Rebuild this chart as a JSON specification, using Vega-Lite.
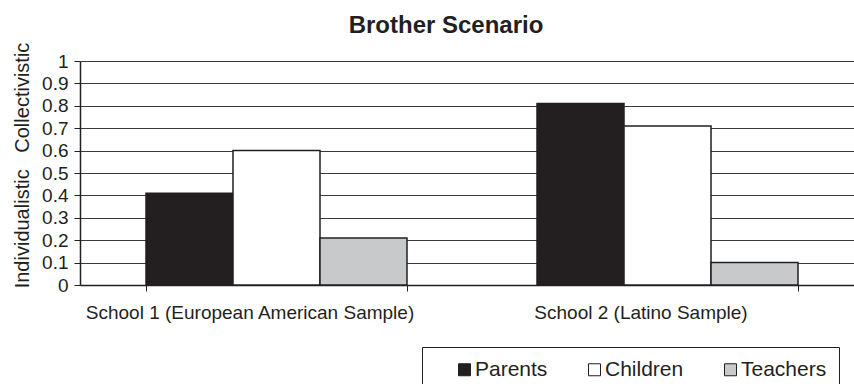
{
  "$schema": "https://vega.github.io/schema/vega-lite/v6.json",
  "autosize": {"type": "none"},
  "padding": {"left": 80, "top": 61, "right": 0, "bottom": 99},
  "width": 774,
  "height": 224,
  "background": "white",
  "title": {
    "text": "Brother Scenario",
    "anchor": "middle",
    "frame": "group",
    "dx": -21,
    "offset": -15,
    "baseline": "alphabetic",
    "font": "Liberation Sans",
    "fontSize": 24,
    "fontWeight": "bold",
    "color": "#231f20"
  },
  "data": {
    "values": [
      {"school": "School 1 (European American Sample)", "group": "Parents", "score": 0.41},
      {"school": "School 1 (European American Sample)", "group": "Children", "score": 0.60},
      {"school": "School 1 (European American Sample)", "group": "Teachers", "score": 0.21},
      {"school": "School 2 (Latino Sample)", "group": "Parents", "score": 0.81},
      {"school": "School 2 (Latino Sample)", "group": "Children", "score": 0.71},
      {"school": "School 2 (Latino Sample)", "group": "Teachers", "score": 0.10}
    ]
  },
  "mark": {"type": "bar", "stroke": "#231f20", "strokeWidth": 1.5},
  "encoding": {
    "x": {
      "field": "school",
      "type": "nominal",
      "sort": null,
      "scale": {"paddingInner": 0.3325, "paddingOuter": 0.156, "align": 0.541},
      "axis": {
        "title": null,
        "labelAngle": 0,
        "labelFont": "Liberation Sans",
        "labelFontSize": 19,
        "labelColor": "#231f20",
        "labelPadding": 12,
        "labelOffset": -27,
        "labelBaseline": "top",
        "labelLimit": 500,
        "tickBand": "extent",
        "tickSize": 6,
        "tickColor": "#231f20",
        "domainColor": "#231f20",
        "domainWidth": 1.5,
        "grid": false
      }
    },
    "xOffset": {
      "field": "group",
      "type": "nominal",
      "scale": {"domain": ["Parents", "Children", "Teachers"], "paddingInner": 0, "paddingOuter": 0}
    },
    "y": {
      "field": "score",
      "type": "quantitative",
      "stack": null,
      "scale": {"domain": [0, 1], "nice": false},
      "axis": {
        "title": "Individualistic\u00a0\u00a0\u00a0Collectivistic",
        "titleFont": "Liberation Sans",
        "titleFontSize": 20,
        "titleFontWeight": "normal",
        "titleColor": "#231f20",
        "titleAngle": -90,
        "titleAlign": "center",
        "titleBaseline": "alphabetic",
        "titleX": -52,
        "titleY": 104,
        "values": [0, 0.1, 0.2, 0.3, 0.4, 0.5, 0.6, 0.7, 0.8, 0.9, 1],
        "format": "~g",
        "labelFont": "Liberation Sans",
        "labelFontSize": 19,
        "labelColor": "#231f20",
        "labelPadding": 6,
        "tickSize": 6,
        "tickColor": "#231f20",
        "domainColor": "#231f20",
        "domainWidth": 1.5,
        "grid": true,
        "gridColor": "#3a3a3a",
        "gridWidth": 1
      }
    },
    "fill": {
      "field": "group",
      "type": "nominal",
      "scale": {
        "domain": ["Parents", "Children", "Teachers"],
        "range": ["#231f20", "#ffffff", "#c8c9cb"]
      },
      "legend": {
        "title": null,
        "orient": "none",
        "direction": "horizontal",
        "columns": 3,
        "legendX": 342,
        "legendY": 286,
        "padding": 12,
        "strokeColor": "#231f20",
        "fillColor": "white",
        "symbolType": "square",
        "symbolSize": 144,
        "symbolStrokeColor": "#231f20",
        "symbolStrokeWidth": 1,
        "symbolOffset": 20,
        "labelFont": "Liberation Sans",
        "labelFontSize": 21,
        "labelColor": "#231f20",
        "labelOffset": 0,
        "columnPadding": 16,
        "labelLimit": 200
      }
    }
  },
  "config": {
    "view": {"stroke": null}
  }
}
